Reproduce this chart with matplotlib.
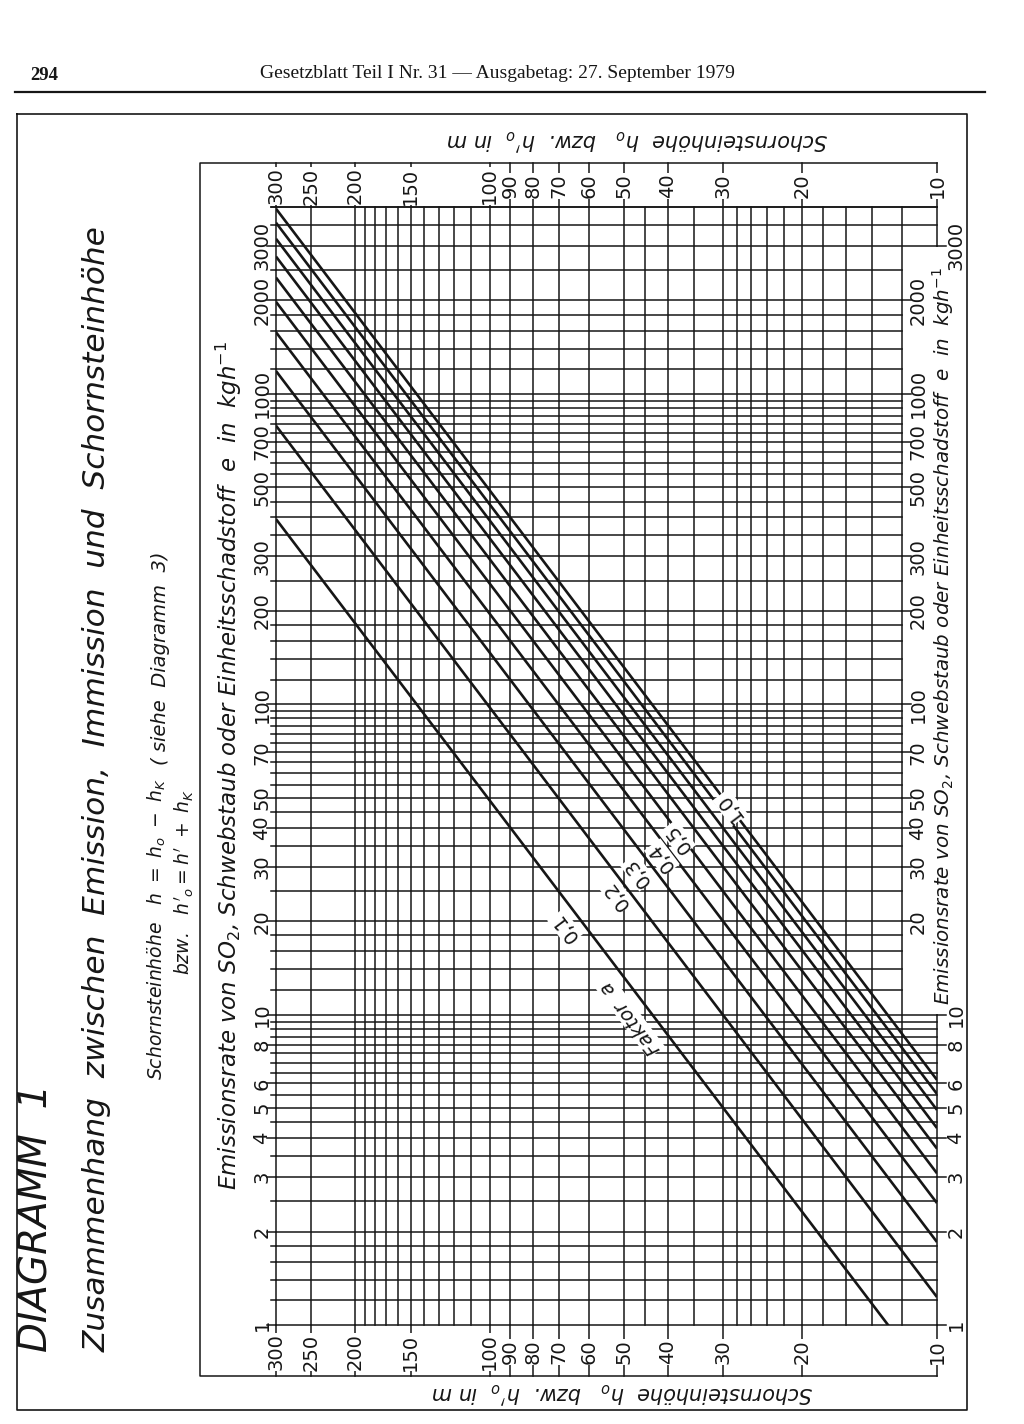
import matplotlib
matplotlib.use("Agg")
import matplotlib.pyplot as plt
import numpy as np
from matplotlib.transforms import blended_transform_factory

INK = "#161616"

# chimney height h in m (runs right -> left on the page)
h_grid = [300, 250, 200, 190, 180, 170, 160, 150, 140, 130, 120, 110, 100, 90, 80,
          70, 60, 50, 45, 40, 35, 30, 28, 26, 24, 22, 20, 18, 16, 14, 12, 10]
h_labels = [300, 250, 200, 150, 100, 90, 80, 70, 60, 50, 40, 30, 20, 10]

# emission rate e in kg/h (runs bottom -> top on the page)
e_steps = [1, 1.2, 1.4, 1.6, 1.8, 2, 2.5, 3, 3.5, 4, 4.5, 5, 5.5, 6, 6.5, 7, 7.5, 8, 8.5, 9, 9.5]
e_decades = [1, 10, 100, 1000]
e_grid = [s * d for d in e_decades for s in e_steps if s * d <= 4000] + [4000]
e_labels_low = [1, 2, 3, 4, 5, 6, 8, 10]
e_labels_high = [20, 30, 40, 50, 70, 100, 200, 300, 500, 700, 1000, 2000]
e_labels_left = e_labels_low + e_labels_high + [3000]

# factor a lines: emission read at h = 300 m and at h = 10 m
factor_a = [0.1, 0.2, 0.3, 0.4, 0.5, 0.6, 0.7, 0.8, 0.9, 1.0]
e_at_300 = [395, 790, 1185, 1580, 1980, 2370, 2770, 3160, 3560, 3950]
e_at_10 = [0.62, 1.23, 1.85, 2.47, 3.08, 3.70, 4.31, 4.93, 5.55, 6.16]

# line labels (text, h, e)
a_text = ["0,1", "0,2", "0,3", "0,4", "0,5", "1,0"]
a_h = [67.8, 51.9, 46.6, 41.2, 37.9, 29.0]
a_e = [19.1, 24.2, 28.7, 32.1, 37.0, 46.5]

fig = plt.figure(figsize=(10.24, 14.24), dpi=100)
fig.patch.set_facecolor("white")

# page layer in pixel units
pg = fig.add_axes([0, 0, 1, 1], zorder=0)
pg.set_xlim(0, 1024)
pg.set_ylim(1424, 0)
pg.axis("off")

# diagram layer
ax = fig.add_axes([276 / 1024, 99 / 1424, 661 / 1024, 1118 / 1424], zorder=1)
ax.set_xscale("log")
ax.set_yscale("log")
ax.set_xlim(300, 10)
ax.set_ylim(1, 4000)
ax.axis("off")
bx = blended_transform_factory(ax.transData, ax.transAxes)
by = blended_transform_factory(ax.transAxes, ax.transData)


def fy(py):
    return (1325 - py) / 1118


def fx(px):
    return (px - 276) / 661


x12 = np.log10(300 / 12) / np.log10(300 / 10)
glw = 1.1
num = dict(color=INK, fontsize=14, family="DejaVu Sans")
box = dict(facecolor="white", edgecolor="none", pad=0.6)

# header
pg.text(30, 76, "294", fontsize=13.5, fontweight="bold", family="Liberation Serif",
        va="center", ha="left", color=INK)
pg.text(497, 74, "Gesetzblatt Teil I Nr. 31 \u2014 Ausgabetag: 27. September 1979",
        fontsize=14, family="Liberation Serif", va="center", ha="center", color=INK)
pg.plot([15, 985], [92, 92], color=INK, lw=1.6)

# outer frame and diagram frame
pg.plot([17, 967, 967, 17, 17], [114, 114, 1410, 1410, 114], color=INK, lw=1.2)
pg.plot([937, 200, 200, 937], [163, 163, 1376, 1376], color=INK, lw=glw)

# title block
pg.text(36, 1352, "DIAGRAMM  1", rotation=90, rotation_mode="anchor", ha="left",
        va="center", fontsize=28, fontstyle="italic", color=INK)
pg.text(97, 1352, "Zusammenhang  zwischen  Emission,  Immission  und  Schornsteinhöhe",
        rotation=90, rotation_mode="anchor", ha="left", va="center", fontsize=22.5,
        fontstyle="italic", color=INK)
pg.text(157, 1080, r"Schornsteinhöhe   $h\ =\ h_o\ -\ h_K$", rotation=90,
        rotation_mode="anchor", ha="left", va="center", fontsize=13.5,
        fontstyle="italic", color=INK)
pg.text(184, 975, r"bzw.   $h'_o = h'\ +\ h_K$", rotation=90, rotation_mode="anchor",
        ha="left", va="center", fontsize=13.5, fontstyle="italic", color=INK)
pg.text(160, 765, "( siehe  Diagramm  3)", rotation=90, rotation_mode="anchor",
        ha="left", va="center", fontsize=14, fontstyle="italic", color=INK)

# axis titles
e_title = (r"Emissionsrate von SO$_2$, Schwebstaub oder Einheitsschadstoff  "
           r"e  in  kgh$^{-1}$")
pg.text(229, 765, e_title, rotation=90, ha="center", va="center", fontsize=16.5,
        fontstyle="italic", color=INK)
pg.text(943, 636, e_title, rotation=90, ha="center", va="center", fontsize=14.3,
        fontstyle="italic", color=INK)
h_title = r"Schornsteinhöhe  $h_o$   bzw.  $h'_o$  in m"
pg.text(637, 140, h_title, rotation=180, ha="center", va="center", fontsize=15,
        fontstyle="italic", color=INK)
pg.text(622, 1393, h_title, rotation=180, ha="center", va="center", fontsize=15,
        fontstyle="italic", color=INK)

# vertical grid lines
for h in h_grid:
    if h == 10:
        ax.plot([h, h], [1, 10], color=INK, lw=glw, clip_on=False)
        ax.plot([h, h], [3000, 4000], color=INK, lw=glw, clip_on=False)
    else:
        ax.plot([h, h], [1, 4000], color=INK, lw=glw, clip_on=False)

# horizontal grid lines
for e in e_grid:
    h_end = 10 if (e <= 10 or e >= 3000) else 12
    ax.plot([300, h_end], [e, e], color=INK, lw=glw, clip_on=False)
    tl = 9 if e in e_labels_left else 5
    ax.plot([0, -tl / 661], [e, e], transform=by, color=INK, lw=glw, clip_on=False)

# h scale ticks and labels, top and bottom
for h in h_labels:
    ax.plot([h, h], [1, fy(163)], transform=bx, color=INK, lw=glw, clip_on=False)
    ax.plot([h, h], [0, fy(1376)], transform=bx, color=INK, lw=glw, clip_on=False)
    ax.text(h, fy(186), str(h), transform=bx, rotation=90, ha="center", va="center",
            bbox=box, clip_on=False, **num)
    ax.text(h, fy(1352), str(h), transform=bx, rotation=90, ha="center", va="center",
            bbox=box, clip_on=False, **num)

# e scale labels, left side
for e in e_labels_left:
    ax.text(fx(262), e, str(e), transform=by, rotation=90, ha="center", va="center",
            clip_on=False, **num)

# e scale labels, right side
for e in e_labels_high:
    ax.plot([x12, x12 + 9 / 661], [e, e], transform=by, color=INK, lw=glw, clip_on=False)
    ax.text(fx(918), e, str(e), transform=by, rotation=90, ha="center", va="center",
            clip_on=False, **num)
for e in e_labels_low + [3000]:
    ax.plot([1, 1 + 9 / 661], [e, e], transform=by, color=INK, lw=glw, clip_on=False)
    ax.text(fx(956), e, str(e), transform=by, rotation=90, ha="center", va="center",
            clip_on=False, **num)

# factor a lines
for a, e0, e1 in zip(factor_a, e_at_300, e_at_10):
    ax.plot([300, 10], [e0, e1], color=INK, lw=1.9, solid_capstyle="butt")

for t, h, e in zip(a_text, a_h, a_e):
    ax.text(h, e, t, rotation=127, rotation_mode="anchor", ha="center", va="center",
            fontsize=14, color=INK, bbox=box)
ax.text(48.5, 9.8, "Faktor  a", rotation=127, rotation_mode="anchor", ha="center",
        va="center", fontsize=14, fontstyle="italic", color=INK, bbox=box)

fig.savefig("out.png", dpi=100, facecolor="white")
